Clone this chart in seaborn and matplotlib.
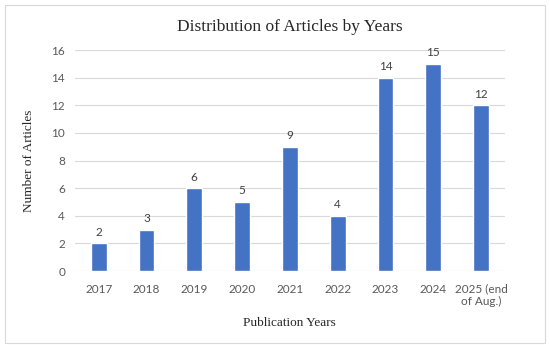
import matplotlib
matplotlib.use('Agg')
import matplotlib.pyplot as plt
import seaborn as sns
import pandas as pd
from matplotlib.patches import Rectangle

# chart data
years = ['2017', '2018', '2019', '2020', '2021', '2022', '2023', '2024', '2025 (end\nof Aug.)']
counts = [2, 3, 6, 5, 9, 4, 14, 15, 12]
y_ticks = [0, 2, 4, 6, 8, 10, 12, 14, 16]

df = pd.DataFrame({'Year': years, 'Count': counts})

sns.set_style('white')
plt.rcParams['font.family'] = ['Lato', 'DejaVu Sans']

fig = plt.figure(figsize=(5.5, 3.48), dpi=100)
ax = fig.add_axes([0.136, 0.221, 0.782, 0.635])

sns.barplot(data=df, x='Year', y='Count', color='#4472C4', width=0.33,
            saturation=1, ax=ax, zorder=3)

ax.set_ylim(0, 16)
ax.set_yticks(y_ticks)
ax.set_xlim(-0.5, len(years) - 0.5)
ax.yaxis.grid(True, color='#d9d9d9', linewidth=0.8, zorder=0)
ax.xaxis.grid(False)
for s in ax.spines.values():
    s.set_visible(False)
ax.tick_params(axis='both', length=0, labelsize=8.5, colors='#595959')
ax.tick_params(axis='x', pad=9)
ax.tick_params(axis='y', pad=7)

# value labels
for p, v in zip(ax.patches, counts):
    ax.annotate(str(v), (p.get_x() + p.get_width() / 2, p.get_height()),
                xytext=(0, 4), textcoords='offset points', ha='center', va='bottom',
                fontsize=8.5, color='#404040')

serif = ['Liberation Serif', 'DejaVu Serif']
ax.set_title('Distribution of Articles by Years', family=serif, fontsize=12.5,
             color='#262626', pad=14)
ax.set_xlabel('Publication Years', family=serif, fontsize=9.5, color='#262626', labelpad=7)
ax.set_ylabel('Number of Articles', family=serif, fontsize=9.5, color='#262626', labelpad=12)

# outer chart border
fig.patches.append(Rectangle((0.009, 0.014), 0.982, 0.972, transform=fig.transFigure,
                             fill=False, edgecolor='#d9d9d9', linewidth=0.8))

fig.savefig('out.png', dpi=100)
plt.close(fig)
